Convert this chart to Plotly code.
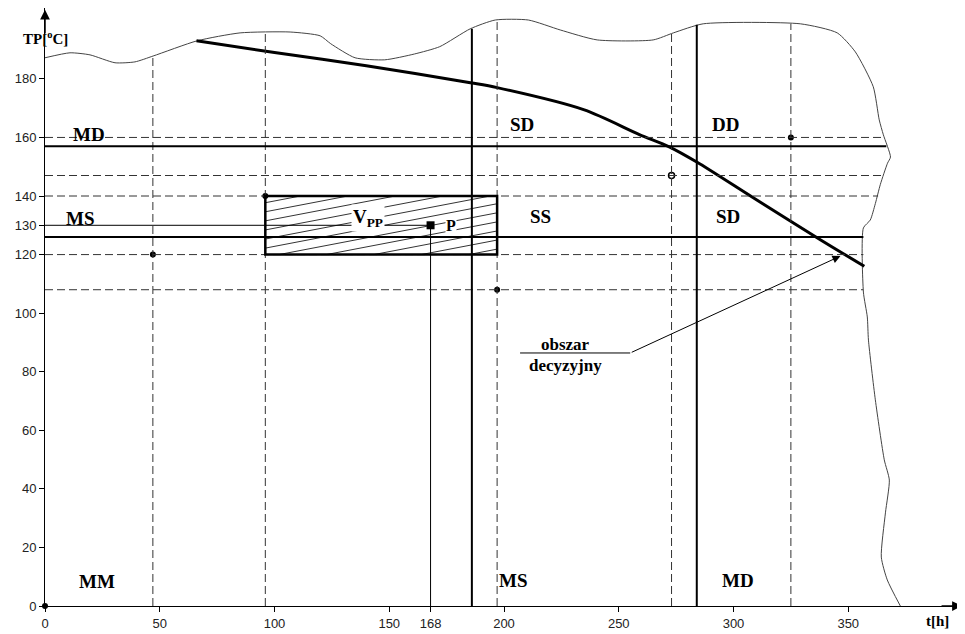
import numpy as np
import plotly.graph_objects as go

# ---- axis ticks ----
x_ticks = [0, 50, 100, 150, 168, 200, 250, 300, 350]
y_ticks = [0, 20, 40, 60, 80, 100, 120, 130, 140, 160, 180]

# ---- decision curve (thick) ----
curve_t = [66, 100, 140, 186, 197, 235, 259, 272, 284, 310, 338, 357]
curve_tp = [193, 189, 184.5, 178.6, 177, 169.4, 161, 156.8, 151.6, 138.7, 125, 116]

# ---- irregular boundary of the region ----
bound_t = [0, 10.9, 19.6, 30.5, 39.2, 47.1, 66.3, 85, 106.8, 119.9, 124.5, 135.1, 148, 161, 172,
           185.3, 196.2, 210.6, 224.5, 240.6, 265, 273.8, 286.8, 329.1, 345.2, 353.1, 360.9,
           363.5, 365.3, 368.4, 367.1, 364, 361.8, 359.6, 356.6, 356.6, 358.3, 358.8, 361.8,
           365.7, 367.9, 366.2, 364.4, 367, 372.7]
bound_tp = [187.2, 188.9, 188.2, 185.5, 185.8, 187.8, 193, 195.7, 196, 194.7, 192, 187.2, 186.5, 188.5, 191,
            197.1, 200.1, 200.1, 196.7, 193.3, 193.3, 195.7, 198.8, 198.8, 195.7, 189.2, 177.3,
            166, 160.9, 153.3, 151.2, 144, 137.4, 131.8, 129.1, 107.2, 98.7, 90.8, 70.4,
            49.9, 43, 31.8, 16.7, 8.9, 0]

# ---- reference lines ----
vsolid_t = [186, 284]
vsolid_top = [197.1, 198.5]
vdash_t = [47, 96, 197, 273, 325]
vdash_top = [187.8, 195.7, 200.1, 195.7, 198.8]
hsolid_tp = [157, 126]
hsolid_end = [366.6, 356.6]
hdash_tp = [160, 147, 140, 120, 108]
hdash_end = [365.3, 364.9, 363, 356.6, 356.6]

# ---- area V_PP and point P ----
rect_t = [96, 197]
rect_tp = [120, 140]
P_t, P_tp = 168, 130

# ---- marked points ----
dots_t = [0, 47, 96, 197, 325]
dots_tp = [0, 120, 140, 108, 160]
open_t = [273]
open_tp = [147]

# ---- region labels ----
lab_text = ["MD", "SD", "DD", "MS", "SS", "SD", "MM", "MS", "MD"]
lab_t = [19, 208, 296.5, 15.5, 216, 297.5, 22.5, 204, 302]
lab_tp = [161, 164.3, 164.3, 132.4, 132.9, 132.9, 8.4, 8.8, 8.8]

# decision-area pointer
pointer_from = (255, 86.4)
pointer_to = (346.6, 119.5)
pointer_line_t = [207, 255]
pointer_text_t = 226.7
pointer_text_tp = [89.2, 82.0]

fig = go.Figure()

serif = "Liberation Serif"
sans = "Liberation Sans"

shapes = []
for t, top in zip(vdash_t, vdash_top):
    shapes.append(dict(type="line", xref="x", yref="y", x0=t, x1=t, y0=0, y1=top,
                       line=dict(color="#333", width=1, dash="8px,4px")))
for tp, end in zip(hdash_tp, hdash_end):
    shapes.append(dict(type="line", xref="x", yref="y", x0=0, x1=end, y0=tp, y1=tp,
                       line=dict(color="#333", width=1, dash="8px,4px")))
for t, top in zip(vsolid_t, vsolid_top):
    shapes.append(dict(type="line", xref="x", yref="y", x0=t, x1=t, y0=0, y1=top,
                       line=dict(color="black", width=2)))
for tp, end in zip(hsolid_tp, hsolid_end):
    shapes.append(dict(type="line", xref="x", yref="y", x0=0, x1=end, y0=tp, y1=tp,
                       line=dict(color="black", width=2)))
# thin lines from P to the axes
shapes.append(dict(type="line", xref="x", yref="y", x0=P_t, x1=P_t, y0=0, y1=P_tp,
                   line=dict(color="black", width=1)))
shapes.append(dict(type="line", xref="x", yref="y", x0=0, x1=P_t, y0=P_tp, y1=P_tp,
                   line=dict(color="black", width=1)))
# pointer horizontal line
shapes.append(dict(type="line", xref="x", yref="y", x0=pointer_line_t[0], x1=pointer_line_t[1],
                   y0=pointer_from[1], y1=pointer_from[1], line=dict(color="black", width=1)))

# hatching inside V_PP
x0, x1 = rect_t
y0, y1 = rect_tp
slope = 0.15
step = 3.1
hx, hy = [], []
for c in np.arange(y0 - slope * (x1 - x0) + step * 0.6, y1, step):
    xa = max(x0, x0 + (y0 - c) / slope)
    xb = min(x1, x0 + (y1 - c) / slope)
    if xb > xa:
        hx += [xa, xb, None]
        hy += [c + slope * (xa - x0), c + slope * (xb - x0), None]
fig.add_trace(go.Scatter(x=hx, y=hy, mode="lines", line=dict(color="black", width=0.8),
                         hoverinfo="skip", showlegend=False))

# rectangle V_PP
shapes.append(dict(type="rect", xref="x", yref="y", x0=x0, x1=x1, y0=y0, y1=y1,
                   line=dict(color="black", width=2.5)))

# boundary
fig.add_trace(go.Scatter(x=bound_t, y=bound_tp, mode="lines",
                         line=dict(color="#444", width=1, shape="spline", smoothing=0.6),
                         hoverinfo="skip", showlegend=False))
# curve
fig.add_trace(go.Scatter(x=curve_t, y=curve_tp, mode="lines",
                         line=dict(color="black", width=3, shape="spline", smoothing=0.8),
                         showlegend=False))
# dots
fig.add_trace(go.Scatter(x=dots_t, y=dots_tp, mode="markers",
                         marker=dict(color="black", size=6), showlegend=False, cliponaxis=False))
fig.add_trace(go.Scatter(x=open_t, y=open_tp, mode="markers",
                         marker=dict(color="white", size=6, line=dict(color="black", width=1.5)),
                         showlegend=False))
fig.add_trace(go.Scatter(x=[P_t], y=[P_tp], mode="markers",
                         marker=dict(color="black", size=8, symbol="square"), showlegend=False))

annotations = []
for txt, t, tp in zip(lab_text, lab_t, lab_tp):
    annotations.append(dict(x=t, y=tp, xref="x", yref="y", text="<b>" + txt + "</b>",
                            showarrow=False, font=dict(family=serif, size=19, color="black")))
annotations.append(dict(x=140.8, y=132.4, xref="x", yref="y", text="<b>V<sub>PP</sub></b>",
                        showarrow=False, bgcolor="white", borderpad=1,
                        font=dict(family=serif, size=19, color="black")))
annotations.append(dict(x=176.8, y=129.8, xref="x", yref="y", text="<b>P</b>",
                        showarrow=False, bgcolor="white", borderpad=0,
                        font=dict(family=serif, size=16, color="black")))
annotations.append(dict(x=pointer_text_t, y=pointer_text_tp[0], xref="x", yref="y",
                        text="<b>obszar</b>", showarrow=False,
                        font=dict(family=serif, size=17, color="black")))
annotations.append(dict(x=pointer_text_t, y=pointer_text_tp[1], xref="x", yref="y",
                        text="<b>decyzyjny</b>", showarrow=False,
                        font=dict(family=serif, size=17, color="black")))
# pointer arrow
annotations.append(dict(x=pointer_to[0], y=pointer_to[1], ax=pointer_from[0], ay=pointer_from[1],
                        xref="x", yref="y", axref="x", ayref="y", text="", showarrow=True,
                        arrowhead=2, arrowsize=1.6, arrowwidth=1, arrowcolor="black"))
# axis arrows
annotations.append(dict(x=0, y=203.6, ax=0, ay=195, xref="x", yref="y", axref="x", ayref="y",
                        text="", showarrow=True, arrowhead=2, arrowsize=1.3, arrowwidth=1.5,
                        arrowcolor="black"))
annotations.append(dict(x=399.5, y=0, ax=390, ay=0, xref="x", yref="y", axref="x", ayref="y",
                        text="", showarrow=True, arrowhead=2, arrowsize=1.3, arrowwidth=1.5,
                        arrowcolor="black"))
# axis titles
annotations.append(dict(x=0, y=194, xref="x", yref="y", text="<b>TP[<sup>o</sup>C]</b>",
                        showarrow=False, font=dict(family=serif, size=15, color="black")))
annotations.append(dict(x=389, y=0, xref="x", yref="y", yanchor="top", yshift=-5,
                        text="<b>t[h]</b>", showarrow=False,
                        font=dict(family=serif, size=15, color="black")))

# the page body adds an 8px offset, so the figure is sized to fit the 965x634 window
fig.update_layout(
    width=957, height=626,
    margin=dict(l=37, r=2, t=0, b=28),
    paper_bgcolor="white", plot_bgcolor="white",
    shapes=shapes, annotations=annotations, showlegend=False,
    xaxis=dict(range=[0, 400], tickvals=x_ticks, ticktext=[str(v) for v in x_ticks],
               showgrid=False, zeroline=False, showline=True, linecolor="black", linewidth=1,
               ticks="outside", ticklen=5, tickcolor="black",
               tickfont=dict(family=sans, size=13, color="#222")),
    yaxis=dict(range=[0, 204.2], tickvals=y_ticks, ticktext=[str(v) for v in y_ticks],
               showgrid=False, zeroline=False, showline=True, linecolor="black", linewidth=1,
               ticks="outside", ticklen=5, tickcolor="black",
               tickfont=dict(family=sans, size=13, color="#222")),
)

fig.write_html("out.html")
